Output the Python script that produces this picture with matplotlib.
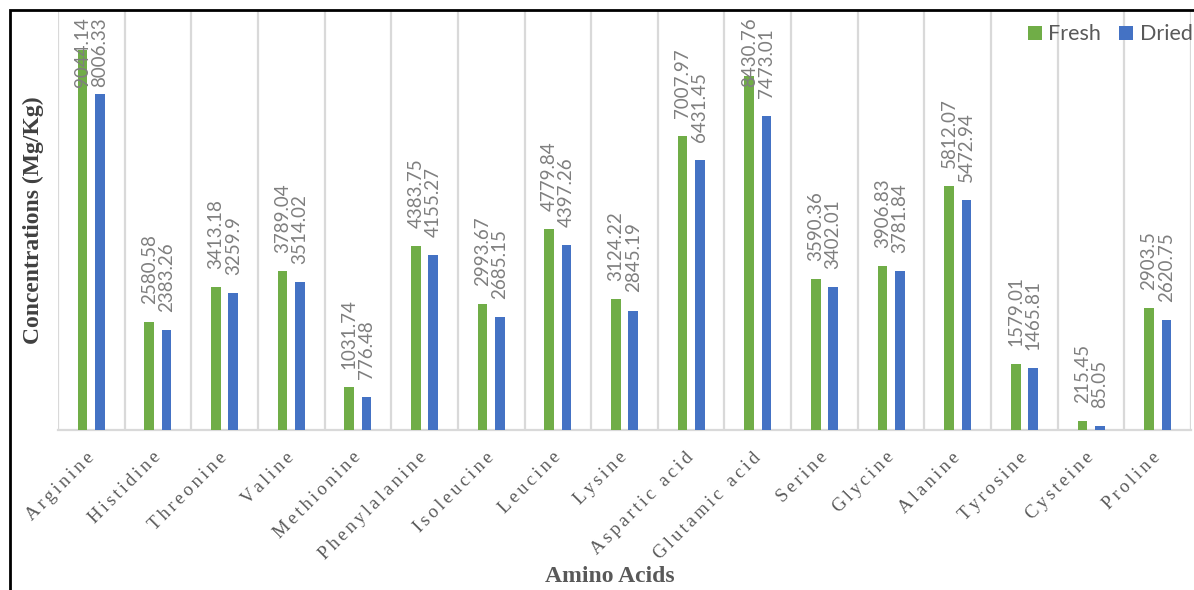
import matplotlib.pyplot as plt
import numpy as np
from matplotlib.patches import Rectangle

amino_acids = ["Arginine", "Histidine", "Threonine", "Valine", "Methionine",
               "Phenylalanine", "Isoleucine", "Leucine", "Lysine", "Aspartic acid",
               "Glutamic acid", "Serine", "Glycine", "Alanine", "Tyrosine",
               "Cysteine", "Proline"]
fresh = [9044.14, 2580.58, 3413.18, 3789.04, 1031.74, 4383.75, 2993.67, 4779.84,
         3124.22, 7007.97, 8430.76, 3590.36, 3906.83, 5812.07, 1579.01, 215.45, 2903.5]
dried = [8006.33, 2383.26, 3259.9, 3514.02, 776.48, 4155.27, 2685.15, 4397.26,
         2845.19, 6431.45, 7473.01, 3402.01, 3781.84, 5472.94, 1465.81, 85.05, 2620.75]

GREEN = "#70AD47"
BLUE = "#4472C4"
YMAX = 10000

fig = plt.figure(figsize=(11.94, 5.9), dpi=100)
ax = fig.add_axes([58 / 1194, 1 - 430 / 590, (1191 - 58) / 1194, 420 / 590])

x = np.arange(len(amino_acids))
w = 0.145
off = 0.13
ax.bar(x - off, fresh, w, color=GREEN, label="Fresh", zorder=3)
ax.bar(x + off, dried, w, color=BLUE, label="Dried", zorder=3)

# value labels, pushed down when they would run off the top (like Excel does)
for xs, vals in ((x - off, fresh), (x + off, dried)):
    for xi, v in zip(xs, vals):
        txt = f"{v:g}"
        if v > 7800:
            ax.text(xi, 9830, txt, rotation=90, ha="center", va="top",
                    fontsize=13.5, color="#7f7f7f", family="Lato", zorder=4)
        else:
            ax.annotate(txt, (xi, v), xytext=(0, 13), textcoords="offset points",
                        rotation=90, ha="center", va="bottom",
                        fontsize=13.5, color="#7f7f7f", family="Lato", zorder=4)

ax.set_xlim(-0.5, len(amino_acids) - 0.5)
ax.set_ylim(0, YMAX)
ax.set_yticks([])
ax.set_xticks(x)
# letter-spaced category names
spaced = ["\u2006".join(list(n)) for n in amino_acids]
ax.set_xticklabels(spaced, rotation=45, ha="right", va="center", rotation_mode="anchor",
                   fontsize=13.5, family=["Liberation Serif", "DejaVu Serif"],
                   color="#595959")
ax.tick_params(axis="x", length=0, pad=18)
ax.set_xticks(np.arange(-0.5, len(amino_acids)), minor=True)
ax.tick_params(axis="x", which="minor", length=0)
ax.grid(axis="x", which="minor", color="#d9d9d9", lw=1.6, zorder=0)
for s in ("top", "left", "right"):
    ax.spines[s].set_visible(False)
ax.spines["bottom"].set_color("#d9d9d9")
ax.spines["bottom"].set_linewidth(1.6)

fig.text(33 / 1194, 1 - 220 / 590, "Concentrations (Mg/Kg)", rotation=90,
         ha="center", va="center", fontsize=17, fontweight="bold",
         family="Liberation Serif", color="#404040")
fig.text(610 / 1194, 1 - 577 / 590, "Amino Acids", ha="center", va="center",
         fontsize=17, fontweight="bold", family="Liberation Serif", color="#595959")

leg = ax.legend(loc="upper right", bbox_to_anchor=(1212 / 1194, 1 - 5 / 590),
                bbox_transform=fig.transFigure, ncol=2, frameon=False,
                handlelength=0.65, handleheight=0.65, handletextpad=0.3,
                columnspacing=0.85, prop={"family": "Lato", "size": 15.5})
for t in leg.get_texts():
    t.set_color("#595959")

fig.patches.append(Rectangle((10 / 1194, -0.1), 1.2, 1.1 - 10 / 590,
                             transform=fig.transFigure, fill=False,
                             ec="black", lw=2))

fig.savefig("out.png", dpi=100)
